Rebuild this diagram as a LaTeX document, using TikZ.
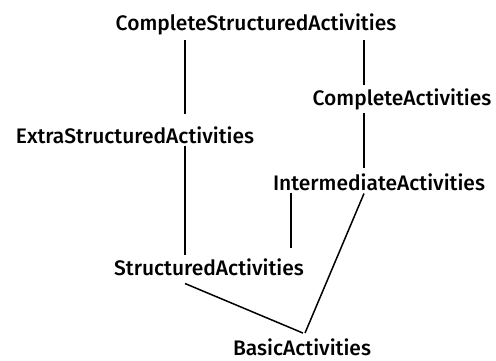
\documentclass[tikz,border=0pt]{standalone}
\usepackage{fontspec}
\setmainfont{Fira Sans}[UprightFont={* Medium}]
\begin{document}
\begin{tikzpicture}[x=1pt,y=-1pt,
  lbl/.style={anchor=base,inner sep=0pt,font=\fontsize{21}{25}\selectfont},
  edge/.style={line width=1.5pt}]
\useasboundingbox (0,0) rectangle (496,360);
\node[lbl] (csa) at (256,30) {CompleteStructuredActivities};
\node[lbl] (ca)  at (402,105) {CompleteActivities};
\node[lbl] (esa) at (135,143) {ExtraStructuredActivities};
\node[lbl] (ia)  at (379,190) {IntermediateActivities};
\node[lbl] (sa)  at (209,275) {StructuredActivities};
\node[lbl] (ba)  at (302,355) {BasicActivities};
\coordinate (xl) at (185,0);
\coordinate (xr) at (364,0);
\coordinate (xm) at (291,0);
\draw[edge] ([yshift=-5pt]csa.south -| xl) -- ([yshift=12pt]esa.north -| xl);
\draw[edge] ([yshift=-5pt]csa.south -| xr) -- ([yshift=3pt]ca.north -| xr);
\draw[edge] ([yshift=-3pt]ca.south -| xr) -- ([yshift=5pt]ia.north -| xr);
\draw[edge] ([yshift=-2pt]esa.south -| xl) -- ([yshift=3pt]sa.north -| xl);
\draw[edge] ([yshift=-2pt]ia.south -| xm) -- ([yshift=10pt]sa.north -| xm);
\draw[edge] ([yshift=-3pt]ia.south -| xr) -- ([yshift=5pt,xshift=3pt]ba.north);
\draw[edge] ([yshift=-8pt]sa.south -| xl) -- ([yshift=5pt,xshift=1pt]ba.north);
\end{tikzpicture}
\end{document}
